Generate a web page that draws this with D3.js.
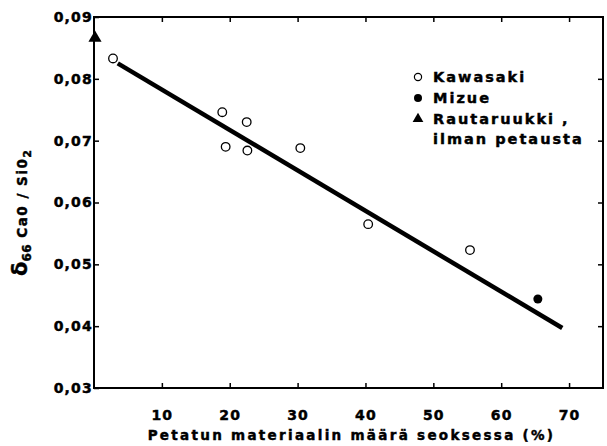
<!DOCTYPE html>
<html>
<head>
<meta charset="utf-8">
<script src="https://cdn.jsdelivr.net/npm/d3@7"></script>
<style>
  body { margin: 0; background: #fff; }
  svg { display: block; font-family: 'DejaVu Sans', sans-serif; font-weight: bold; }
  text { stroke: #000; stroke-width: 0.45; }
  .tick text { font-size: 14px; letter-spacing: 1.2px; fill: #000; font-weight: bold; font-family: 'DejaVu Sans', sans-serif; }
  .tick line { stroke: #000; stroke-width: 1.5; }
</style>
</head>
<body>
<svg id="chart" width="607" height="446"></svg>
<script>
// data
const xTicks = [10, 20, 30, 40, 50, 60, 70]
const yTicks = [0.03, 0.04, 0.05, 0.06, 0.07, 0.08, 0.09]

const kawasakiX = [2.8, 18.9, 22.5, 19.4, 22.6, 30.4, 40.4, 55.4]
const kawasakiY = [0.0833, 0.0746, 0.0730, 0.0690, 0.0684, 0.0688, 0.0565, 0.0523]

const mizueX = [65.4]
const mizueY = [0.0444]

const rautaruukkiX = [0]
const rautaruukkiY = [0.0866]

// fitted line, end points
const fitX = [3.5, 69]
const fitY = [0.0825, 0.0397]

const legendLabels = ['Kawasaki', 'Mizue', 'Rautaruukki ,', 'ilman petausta']

const svg = d3.select('#chart')

const xScale = d3.scaleLinear().domain([0, 75]).range([94, 603])
const yScale = d3.scaleLinear().domain([0.03, 0.09]).range([388, 17])

const fmt = (d) => d.toFixed(2).replace('.', ',')

// axes, ticks pointing inward
svg.append('g')
  .attr('transform', `translate(${xScale(0)},0)`)
  .call(d3.axisLeft(yScale).tickValues(yTicks).tickSize(-5).tickPadding(1).tickFormat(fmt))
  .call(g => g.select('.domain').remove())

svg.append('g')
  .attr('transform', `translate(0,${yScale(0.03)})`)
  .call(d3.axisBottom(xScale).tickValues(xTicks).tickSize(-5).tickPadding(22))
  .call(g => g.select('.domain').remove())

svg.append('g')
  .attr('transform', `translate(0,${yScale(0.09)})`)
  .call(d3.axisTop(xScale).tickValues(xTicks).tickSize(-5).tickFormat(''))
  .call(g => g.select('.domain').remove())

svg.append('g')
  .attr('transform', `translate(${xScale(75)},0)`)
  .call(d3.axisRight(yScale).tickValues(yTicks.slice(1, -1)).tickSize(-5).tickFormat(''))
  .call(g => g.select('.domain').remove())

// frame
svg.append('rect')
  .attr('x', xScale(0)).attr('y', yScale(0.09))
  .attr('width', xScale(75) - xScale(0)).attr('height', yScale(0.03) - yScale(0.09))
  .attr('fill', 'none').attr('stroke', '#000').attr('stroke-width', 2)

// regression line
const line = d3.line().x((d) => xScale(d[0])).y((d) => yScale(d[1]))
svg.append('path')
  .datum(d3.zip(fitX, fitY))
  .attr('d', line)
  .attr('fill', 'none').attr('stroke', '#000').attr('stroke-width', 4.5)

// points
svg.selectAll('.kawasaki')
  .data(d3.zip(kawasakiX, kawasakiY))
  .enter().append('circle')
  .attr('class', 'kawasaki')
  .attr('cx', (d) => xScale(d[0])).attr('cy', (d) => yScale(d[1]))
  .attr('r', 4.3)
  .attr('fill', '#fff').attr('stroke', '#000').attr('stroke-width', 1.3)

svg.selectAll('.mizue')
  .data(d3.zip(mizueX, mizueY))
  .enter().append('circle')
  .attr('class', 'mizue')
  .attr('cx', (d) => xScale(d[0])).attr('cy', (d) => yScale(d[1]))
  .attr('r', 4.5)
  .attr('fill', '#000')

// rautaruukki sits on the axis as an arrow head
const tri = d3.symbol().type(d3.symbolTriangle).size(75)
svg.selectAll('.rauta')
  .data(d3.zip(rautaruukkiX, rautaruukkiY))
  .enter().append('path')
  .attr('class', 'rauta')
  .attr('transform', (d) => `translate(${xScale(d[0]) + 1},${yScale(d[1])})`)
  .attr('d', tri)
  .attr('fill', '#000')

// legend
const legend = svg.append('g').attr('transform', 'translate(418,77)')
const rowY = [0, 21, 42, 62]
legend.selectAll('text')
  .data(legendLabels)
  .enter().append('text')
  .attr('x', 15)
  .attr('y', (d, i) => rowY[i] + 5)
  .attr('font-size', 14.5)
  .attr('letter-spacing', 2)
  .text((d) => d)

legend.append('circle').attr('cx', 0).attr('cy', rowY[0]).attr('r', 3.6)
  .attr('fill', '#fff').attr('stroke', '#000').attr('stroke-width', 1.2)
legend.append('circle').attr('cx', 0).attr('cy', rowY[1]).attr('r', 4).attr('fill', '#000')
legend.append('path').attr('transform', `translate(0,${rowY[2]})`)
  .attr('d', d3.symbol().type(d3.symbolTriangle).size(50)).attr('fill', '#000')

// axis titles
svg.append('text')
  .attr('x', (xScale(0) + xScale(75)) / 2 + 3)
  .attr('y', 440)
  .attr('text-anchor', 'middle')
  .attr('font-size', 13.5)
  .attr('letter-spacing', 2.3)
  .text('Petatun materiaalin määrä seoksessa (%)')

const yTitle = svg.append('text')
  .attr('transform', 'translate(27,213) rotate(-90)')
  .attr('text-anchor', 'middle')
yTitle.append('tspan').attr('font-size', 21).text('δ')
yTitle.append('tspan').attr('font-size', 12).attr('dy', 4).attr('letter-spacing', 0.5).text('66')
yTitle.append('tspan').attr('font-size', 13.5).attr('dy', -4).attr('letter-spacing', 1.5).text('  Ca0 / Si0')
yTitle.append('tspan').attr('font-size', 11).attr('dy', 4).text('2')
</script>
</body>
</html>
